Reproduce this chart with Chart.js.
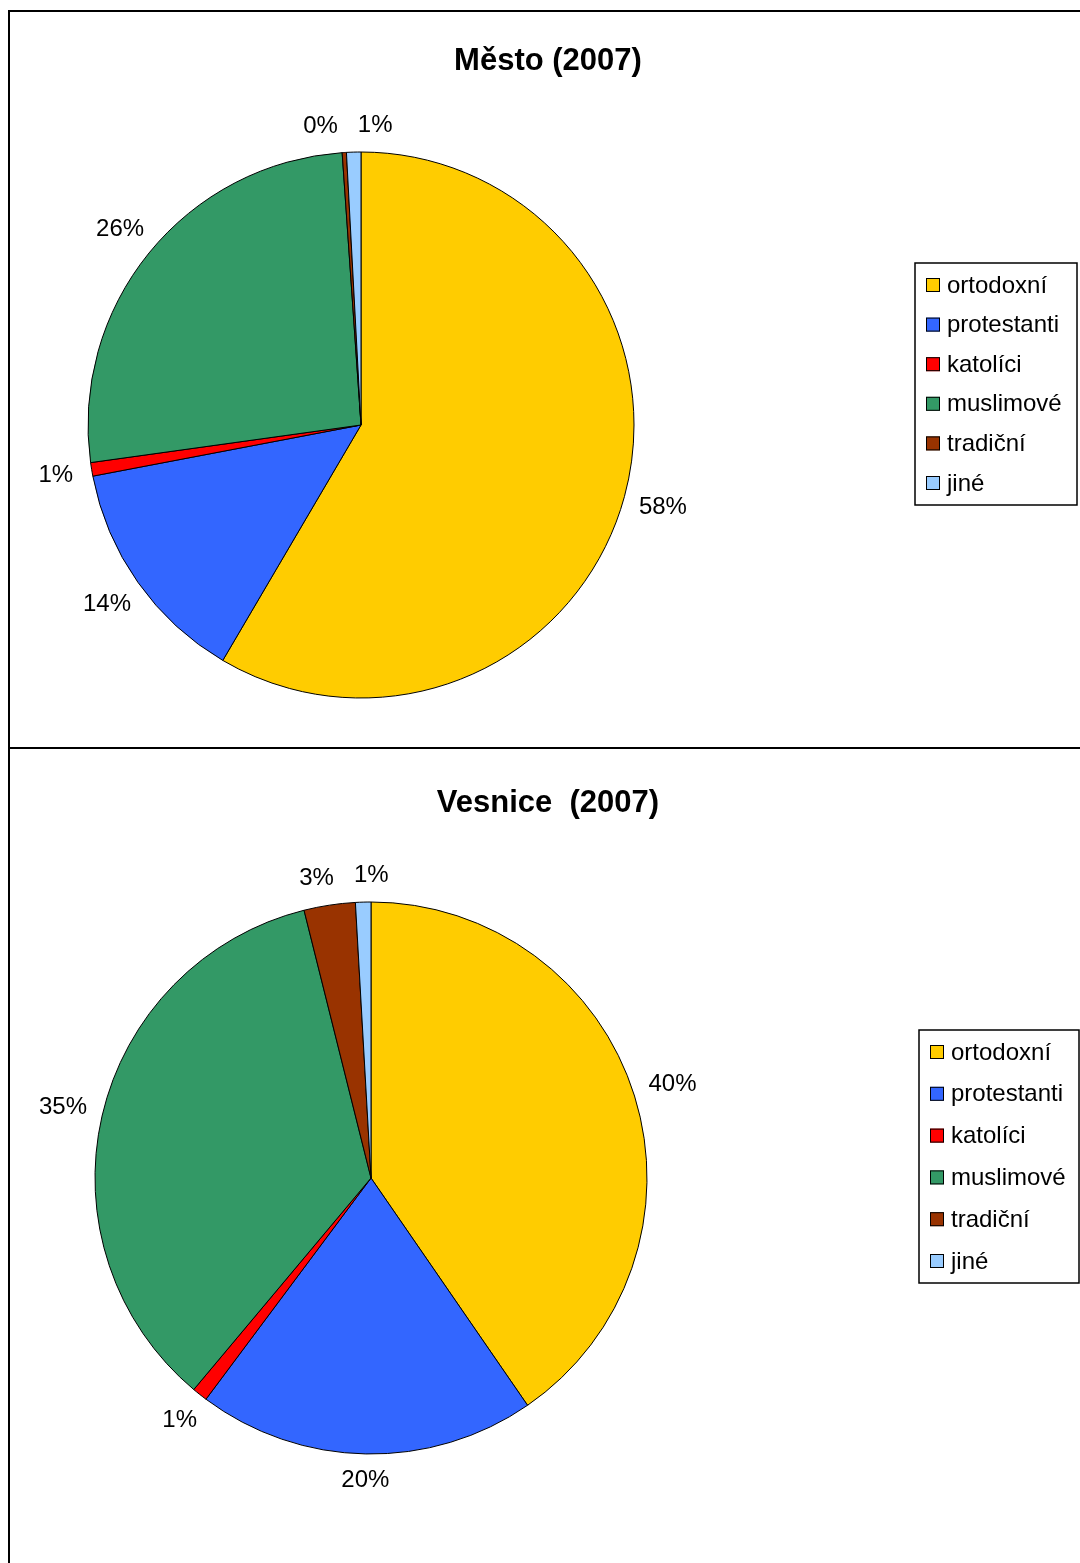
<!DOCTYPE html>
<html>
<head>
<meta charset="utf-8">
<title>Město / Vesnice (2007)</title>
<script src="https://cdn.jsdelivr.net/npm/chart.js@4.4.1/dist/chart.umd.min.js"></script>
<style>
    html, body {
        margin: 0;
        padding: 0;
        width: 1080px;
        height: 1563px;
        overflow: hidden;
        background: #ffffff;
        font-family: "Liberation Sans", Arial, sans-serif;
    }
    .panel {
        position: absolute;
        left: 8px;
        width: 1200px;
        border: 2px solid #000;
        box-sizing: border-box;
    }
    .title {
        position: absolute;
        left: 0;
        width: 1096px;
        text-align: center;
        font-weight: bold;
        font-size: 31px;
        line-height: 36px;
        color: #000;
        white-space: pre;
        z-index: 2;
    }
    canvas {
        position: absolute;
        left: 10px;
    }
</style>
</head>
<body>
<div class="panel" style="top:10px; height:739px;"></div>
<div class="panel" style="top:747px; height:900px;"></div>

<div class="title" style="top:42px;">Město (2007)</div>
<div class="title" style="top:784px;">Vesnice  (2007)</div>

<canvas id="chartMesto" width="1070" height="735" style="top:12px;"></canvas>
<canvas id="chartVesnice" width="1070" height="814" style="top:749px;"></canvas>

<script>
// data
const categories = ["ortodoxní", "protestanti", "katolíci", "muslimové", "tradiční", "jiné"];
const sliceColors = ["#FFCC00", "#3366FF", "#FF0000", "#339966", "#993300", "#99CCFF"];
const mestoValues = [58.45, 13.55, 0.8, 26.1, 0.25, 0.85];
const vesniceValues = [40.4, 19.8, 0.9, 35.0, 3.0, 0.9];

const FONT = "Liberation Sans, Arial, sans-serif";

// percent labels outside the slices (Excel style)
const outsideLabels = {
    id: "outsideLabels",
    afterDatasetsDraw(chart, args, opts) {
        const ctx = chart.ctx;
        const meta = chart.getDatasetMeta(0);
        const values = chart.data.datasets[0].data;
        const total = values.reduce((a, b) => a + b, 0);
        ctx.save();
        ctx.font = opts.fontSize + "px " + FONT;
        ctx.fillStyle = "#000";
        ctx.textAlign = "center";
        ctx.textBaseline = "middle";

        const items = meta.data.map((arc, i) => {
            const p = arc.getProps(["x", "y", "startAngle", "endAngle", "outerRadius"], true);
            const mid = (p.startAngle + p.endAngle) / 2;
            const text = Math.round(values[i] / total * 100) + "%";
            const w = ctx.measureText(text).width;
            // wider text sits a bit further out on the sides
            const d = p.outerRadius + opts.gap + Math.abs(Math.cos(mid)) * w * 0.3;
            return {
                text: text,
                x: p.x + Math.cos(mid) * d,
                y: p.y + Math.sin(mid) * d,
                w: w
            };
        });

        // push apart labels that would overlap
        for (let i = 1; i < items.length; i++) {
            const a = items[i - 1], b = items[i];
            if (Math.abs(a.y - b.y) < opts.fontSize) {
                const need = (a.w + b.w) / 2 + opts.minGap;
                const dist = Math.abs(b.x - a.x);
                if (dist < need) {
                    const shift = (need - dist) / 2;
                    const dir = b.x >= a.x ? 1 : -1;
                    a.x -= shift * dir;
                    b.x += shift * dir;
                }
            }
        }

        items.forEach((it) => ctx.fillText(it.text, it.x, it.y));
        ctx.restore();
    }
};

// boxed legend drawn beside the pie
const boxLegend = {
    id: "boxLegend",
    afterDraw(chart, args, opts) {
        const ctx = chart.ctx;
        const colors = chart.data.datasets[0].backgroundColor;
        const labels = chart.data.labels;
        const rowH = (opts.h - 44) / (labels.length - 1);
        ctx.save();
        ctx.fillStyle = "#fff";
        ctx.fillRect(opts.x, opts.y, opts.w, opts.h);
        ctx.strokeStyle = "#000";
        ctx.lineWidth = 1.5;
        ctx.strokeRect(opts.x, opts.y, opts.w, opts.h);

        ctx.font = opts.fontSize + "px " + FONT;
        ctx.textBaseline = "middle";
        ctx.textAlign = "left";
        labels.forEach((label, i) => {
            const cy = opts.y + 22 + rowH * i;
            ctx.fillStyle = colors[i];
            ctx.fillRect(opts.x + 11, cy - 7, 14, 14);
            ctx.lineWidth = 1;
            ctx.strokeStyle = "#000";
            ctx.strokeRect(opts.x + 11.5, cy - 6.5, 13, 13);
            ctx.fillStyle = "#000";
            ctx.fillText(label, opts.x + 32, cy + 1);
        });
        ctx.restore();
    }
};

// padding that puts the pie centre at (cx, cy) inside a w x h canvas
function paddingFor(cx, cy, w, h) {
    return { left: 0, right: w - 2 * cx, top: 2 * cy - h, bottom: 0 };
}

function makePie(canvasId, values, center, radius, legendBox) {
    const canvas = document.getElementById(canvasId);
    return new Chart(canvas.getContext("2d"), {
        type: "pie",
        data: {
            labels: categories,
            datasets: [{
                data: values,
                backgroundColor: sliceColors,
                borderColor: "#000",
                borderWidth: 1
            }]
        },
        options: {
            responsive: false,
            animation: false,
            devicePixelRatio: 1,
            radius: radius,
            layout: {
                padding: paddingFor(center[0], center[1], canvas.width, canvas.height)
            },
            plugins: {
                legend: { display: false },
                title: { display: false },
                tooltip: { enabled: false },
                outsideLabels: { gap: 26, fontSize: 24, minGap: 20 },
                boxLegend: legendBox
            }
        },
        plugins: [outsideLabels, boxLegend]
    });
}

makePie("chartMesto", mestoValues, [351, 413], 273,
    { x: 905, y: 251, w: 162, h: 242, fontSize: 24 });
makePie("chartVesnice", vesniceValues, [361, 429], 276,
    { x: 909, y: 281, w: 160, h: 253, fontSize: 24 });
</script>
</body>
</html>
